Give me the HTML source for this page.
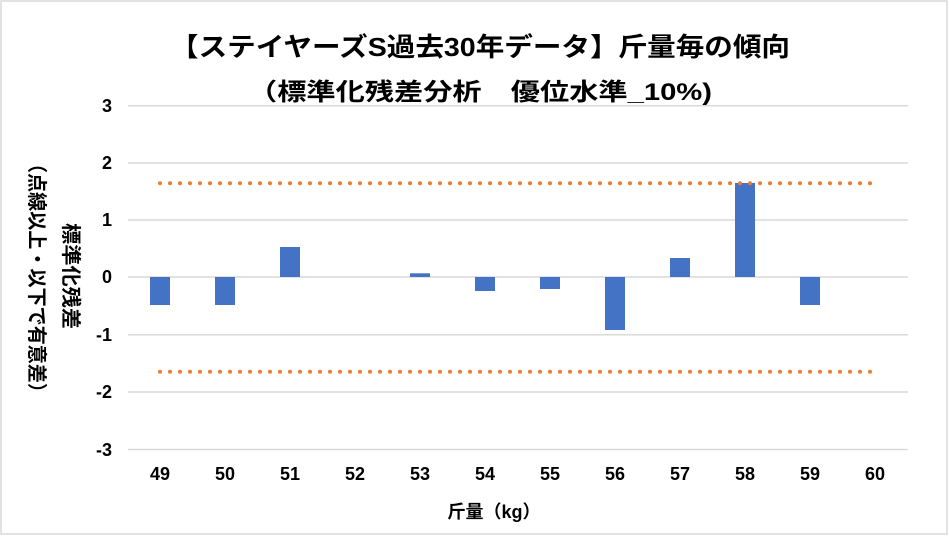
<!DOCTYPE html>
<html><head><meta charset="utf-8"><style>
body{margin:0;background:#fff}
svg{display:block;font-family:"Liberation Sans","Noto Sans CJK JP",sans-serif}
</style></head><body>
<svg width="949" height="536" viewBox="0 0 949 536" xmlns="http://www.w3.org/2000/svg">
<rect x="1" y="1" width="946" height="533" fill="#fff" stroke="#d9d9d9" stroke-width="1.5"/>
<text x="480" y="56" font-size="26" font-weight="bold" text-anchor="middle" textLength="620" lengthAdjust="spacingAndGlyphs">【ステイヤーズS過去30年データ】斤量毎の傾向</text>
<text x="480" y="100" font-size="24" font-weight="bold" text-anchor="middle" textLength="464" lengthAdjust="spacingAndGlyphs">（標準化残差分析　優位水準_10%)</text>
<g stroke="#d9d9d9" stroke-width="1.5">
<line x1="128" x2="908" y1="105.7" y2="105.7"/>
<line x1="128" x2="908" y1="163" y2="163"/>
<line x1="128" x2="908" y1="220" y2="220"/>
<line x1="128" x2="908" y1="277" y2="277"/>
<line x1="128" x2="908" y1="334.7" y2="334.7"/>
<line x1="128" x2="908" y1="392" y2="392"/>
<line x1="128" x2="908" y1="449.5" y2="449.5"/>
</g>
<g font-size="18" font-weight="bold" text-anchor="end">
<text x="112" y="112">3</text><text x="112" y="169">2</text><text x="112" y="226">1</text><text x="112" y="283">0</text><text x="112" y="341">-1</text><text x="112" y="398">-2</text><text x="112" y="456">-3</text>
</g>
<g fill="#4472c4">
<rect x="150" y="277" width="20" height="28"/>
<rect x="215" y="277" width="20" height="28"/>
<rect x="280" y="247" width="20" height="30"/>
<rect x="410" y="273.3" width="20" height="3.7"/>
<rect x="475" y="277" width="20" height="14"/>
<rect x="540" y="277" width="20" height="12"/>
<rect x="605" y="277" width="20" height="53"/>
<rect x="670" y="258" width="20" height="19"/>
<rect x="735" y="183" width="20" height="94"/>
<rect x="800" y="277" width="20" height="28"/>
</g>
<g stroke="#ed7d31" stroke-width="4" stroke-linecap="round" stroke-dasharray="0 10">
<line x1="160" x2="872" y1="183.3" y2="183.3"/>
<line x1="160" x2="872" y1="371.7" y2="371.7"/>
</g>
<g font-size="18" font-weight="bold" text-anchor="middle">
<text x="160" y="480">49</text><text x="225" y="480">50</text><text x="290" y="480">51</text><text x="355" y="480">52</text><text x="420" y="480">53</text><text x="485" y="480">54</text><text x="550" y="480">55</text><text x="615" y="480">56</text><text x="680" y="480">57</text><text x="745" y="480">58</text><text x="810" y="480">59</text><text x="875" y="480">60</text>
</g>
<text x="494" y="518" font-size="18" font-weight="bold" text-anchor="middle">斤量（kg）</text>
<text transform="translate(64,276) rotate(90)" font-size="20" font-weight="bold" text-anchor="middle" textLength="106" lengthAdjust="spacingAndGlyphs">標準化残差</text>
<text transform="translate(30,278) rotate(90)" font-size="20" font-weight="bold" text-anchor="middle" textLength="248" lengthAdjust="spacingAndGlyphs">（点線以上・以下で有意差）</text>
</svg>
</body></html>
